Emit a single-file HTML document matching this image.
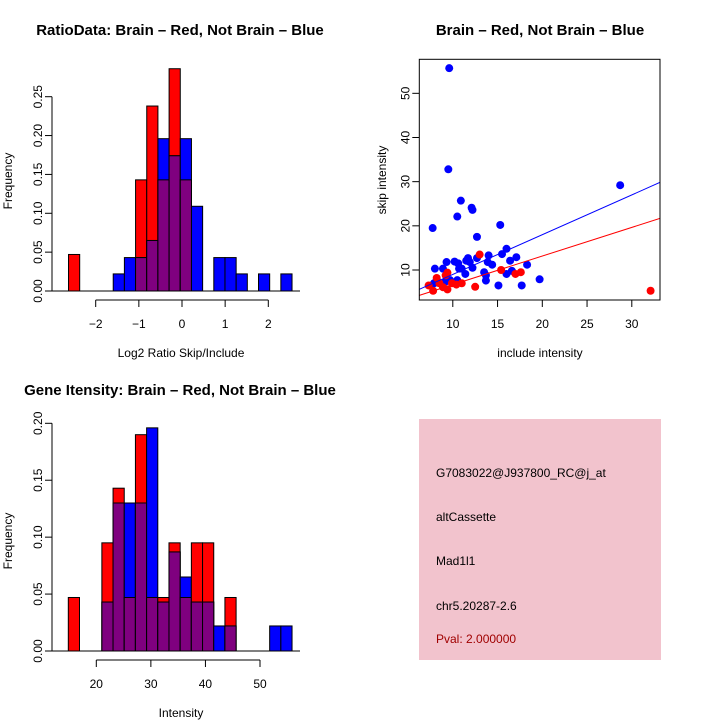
<!DOCTYPE html>
<html><head><meta charset="utf-8"><style>
html,body{margin:0;padding:0;background:#fff}
svg{display:block;font-family:"Liberation Sans",sans-serif}
text{fill:#000}
</style></head><body>
<svg id="s" width="720" height="720" viewBox="0 0 720 720">
<rect x="0" y="0" width="720" height="720" fill="#fff"/>
<g id="p1"></g>
<g id="p2"></g>
<g id="p3"></g>
<g>
<rect x="419" y="419" width="242" height="241" fill="#f2c3cd"/>
<text x="436" y="477" font-size="12">G7083022@J937800_RC@j_at</text>
<text x="436" y="521" font-size="12">altCassette</text>
<text x="436" y="565" font-size="12">Mad1l1</text>
<text x="436" y="610" font-size="12">chr5.20287-2.6</text>
<text x="436" y="643" font-size="12" style="fill:#a00000">Pval: 2.000000</text>
</g>
</svg>
<script>
// ---- Ratio histogram data ----
const ratioBreakStart = -2.63;
const ratioBinWidth = 0.259;
const ratioRed  = [0.047,0,0,0,0,0,0.143,0.238,0.143,0.286,0.143,0,0,0,0,0,0,0,0,0];
const ratioBlue = [0,0,0,0,0.022,0.043,0.043,0.065,0.196,0.174,0.196,0.109,0,0.043,0.043,0.022,0,0.022,0,0.022];
const ratioXTicks = [-2,-1,0,1,2];
const ratioYTicks = [0,0.05,0.10,0.15,0.20,0.25];
const ratioYLabels = ["0.00","0.05","0.10","0.15","0.20","0.25"];
// ---- Intensity histogram data ----
const intBreakStart = 14.87;
const intBinWidth = 2.05;
const intRed  = [0.047,0,0,0.095,0.143,0.047,0.190,0.047,0.047,0.095,0.047,0.095,0.095,0,0.047,0,0,0,0,0];
const intBlue = [0,0,0,0.043,0.130,0.130,0.130,0.196,0.043,0.087,0.065,0.043,0.043,0.022,0.022,0,0,0,0.022,0.022];
const intXTicks = [20,30,40,50];
const intYTicks = [0,0.05,0.10,0.15,0.20];
const intYLabels = ["0.00","0.05","0.10","0.15","0.20"];
// ---- Scatter data ----
const blueX = [9.6,9.5,10.9,10.5,12.1,12.2,7.75,28.7,15.3,12.7,16.0,15.5,14.0,17.1,12.7,11.7,11.5,11.9,10.2,9.3,10.6,13.9,14.4,16.4,18.3,8.0,8.9,10.7,11.0,12.2,11.4,13.5,13.7,16.0,16.6,10.5,13.7,9.7,9.2,7.9,8.3,15.1,17.7,19.7];
const blueY = [55.7,32.8,25.7,22.1,24.1,23.6,19.5,29.2,20.2,17.5,14.8,13.6,13.3,12.9,12.7,12.7,12.1,11.8,11.9,11.8,11.5,11.8,11.2,12.1,11.2,10.3,10.3,10.3,10.3,10.5,9.1,9.5,8.8,9.1,9.8,7.7,7.6,7.7,7.4,7.0,7.4,6.5,6.5,7.9];
const redX = [7.3,7.8,8.2,8.9,9.4,9.4,9.2,9.9,10.4,11.0,12.5,13.0,15.4,17.0,17.6,32.1,8.5];
const redY = [6.5,5.3,8.2,6.1,5.6,9.4,8.8,7.0,6.7,7.0,6.2,13.5,10.0,9.1,9.5,5.3,7.0];
const blueFit = [0.0, 0.90];   // intercept, slope
const redFit = [0.2, 0.648];
const scXTicks = [10,15,20,25,30];
const scYTicks = [10,20,30,40,50];

const NS = "http://www.w3.org/2000/svg";
function mk(parent, tag, attrs){
  const e = document.createElementNS(NS, tag);
  for (const k in attrs) e.setAttribute(k, attrs[k]);
  parent.appendChild(e);
  return e;
}
function txt(parent, x, y, s, size, anchor, rot){
  const t = mk(parent, "text", {x:x, y:y, "font-size":size, "text-anchor":anchor||"middle"});
  if (rot) t.setAttribute("transform", "rotate(-90 "+x+" "+y+")");
  t.textContent = s;
  return t;
}

function hist(g, o){
  const X = v => o.x0 + (v - o.xv0) * o.xs;
  const Y = v => o.base - v * o.ys;
  const n = o.red.length;
  for (let i=0;i<n;i++){
    const l = X(o.start + i*o.w), r = X(o.start + (i+1)*o.w);
    const rv = o.red[i], bv = o.blue[i];
    if (rv>0){
      const b = mk(g,"rect",{x:l,y:Y(rv),width:r-l,height:Y(0)-Y(rv),fill:"#ff0000",stroke:"#000","stroke-width":1});
      
      
    }
    if (bv>0){
      const b = mk(g,"rect",{x:l,y:Y(bv),width:r-l,height:Y(0)-Y(bv),fill:"#0000ff",stroke:"#000","stroke-width":1});
      
      
    }
    if (rv>0 && bv>0){
      const m = Math.min(rv,bv);
      const b = mk(g,"rect",{x:l,y:Y(m),width:r-l,height:Y(0)-Y(m),fill:"#7f007f",stroke:"#000","stroke-width":1});
      
      
    }
  }
  mk(g,"line",{x1:o.yAxisX,y1:o.base,x2:300,y2:o.base,stroke:"#000"});
  const ya = mk(g,"g",{});
  
  
  mk(ya,"line",{x1:o.yAxisX,y1:Y(o.yt[0]),x2:o.yAxisX,y2:Y(o.yt[o.yt.length-1]),stroke:"#000"});
  o.yt.forEach((v,i)=>{
    mk(ya,"line",{x1:o.yAxisX-7,y1:Y(v),x2:o.yAxisX,y2:Y(v),stroke:"#000"});
    txt(ya,o.yAxisX-10,Y(v),o.yl[i],12,"middle",true);
  });
  const xa = mk(g,"g",{});
  
  
  const xt = o.xt;
  mk(xa,"line",{x1:X(xt[0]),y1:o.axY,x2:X(xt[xt.length-1]),y2:o.axY,stroke:"#000"});
  xt.forEach(v=>{
    mk(xa,"line",{x1:X(v),y1:o.axY,x2:X(v),y2:o.axY+7,stroke:"#000"});
    txt(xa,X(v),o.axY+28,String(v).replace("-","\u2212"),12);
  });
  const xl = txt(g,181,o.axY+57,o.xlab,12);
  
  
  const yl = txt(g,12,o.base-110,"Frequency",12,"middle",true);
  
  
  const tt = txt(g,o.titleX,o.titleY,o.title,15);
  tt.setAttribute("font-weight","bold");
  
  
}

hist(document.getElementById("p1"),{
  red:ratioRed, blue:ratioBlue, start:ratioBreakStart, w:ratioBinWidth,
  x0:95.7, xv0:-2, xs:43.15, base:291, ys:777.2, yAxisX:52, axY:300,
  xt:ratioXTicks, yt:ratioYTicks, yl:ratioYLabels, xlab:"Log2 Ratio Skip/Include",
  title:"RatioData: Brain \u2013 Red, Not Brain \u2013 Blue", titleX:180, titleY:35
});
hist(document.getElementById("p3"),{
  red:intRed, blue:intBlue, start:intBreakStart, w:intBinWidth,
  x0:96.3, xv0:20, xs:5.457, base:651, ys:1138.5, yAxisX:52, axY:660,
  xt:intXTicks, yt:intYTicks, yl:intYLabels, xlab:"Intensity",
  title:"Gene Itensity: Brain \u2013 Red, Not Brain \u2013 Blue", titleX:180, titleY:395
});

(function(){
  const g = document.getElementById("p2");
  const L=419.3,R=660,T=59.3,B=300;
  const X = v => 452.8 + (v-10)*8.95;
  const Y = v => 270 - (v-10)*4.417;
  const cp = mk(mk(g,"defs",{}),"clipPath",{id:"clip"});
  mk(cp,"rect",{x:L,y:T,width:R-L,height:B-T});
  blueX.forEach((v,i)=>{
    const c = mk(g,"circle",{cx:X(v),cy:Y(blueY[i]),r:4,fill:"#0000ff"});
    
    
  });
  redX.forEach((v,i)=>{
    const c = mk(g,"circle",{cx:X(v),cy:Y(redY[i]),r:4,fill:"#ff0000"});
    
    
  });
  const xs0 = 10 + (L-452.8)/8.95, xs1 = 10 + (R-452.8)/8.95;
  [[blueFit,"#0000ff","blue-fit-line"],[redFit,"#ff0000","red-fit-line"]].forEach(f=>{
    const ln = mk(g,"line",{x1:X(xs0),y1:Y(f[0][0]+f[0][1]*xs0),x2:X(xs1),y2:Y(f[0][0]+f[0][1]*xs1),stroke:f[1],"stroke-width":1,"clip-path":"url(#clip)"});
    
    
  });
  const box = mk(g,"rect",{x:L,y:T,width:R-L,height:B-T,fill:"none",stroke:"#000"});
  
  
  const xa = mk(g,"g",{});
  
  
  scXTicks.forEach(v=>{
    mk(xa,"line",{x1:X(v),y1:B,x2:X(v),y2:B+7,stroke:"#000"});
    txt(xa,X(v),B+28,String(v),12);
  });
  const ya = mk(g,"g",{});
  
  
  scYTicks.forEach(v=>{
    mk(ya,"line",{x1:L-7,y1:Y(v),x2:L,y2:Y(v),stroke:"#000"});
    txt(ya,L-10,Y(v),String(v),12,"middle",true);
  });
  const xl = txt(g,540,357,"include intensity",12);
  
  
  const yl = txt(g,386,180,"skip intensity",12,"middle",true);
  
  
  const tt = txt(g,540,35,"Brain \u2013 Red, Not Brain \u2013 Blue",15);
  tt.setAttribute("font-weight","bold");
  
  
})();
</script>
</body></html>
